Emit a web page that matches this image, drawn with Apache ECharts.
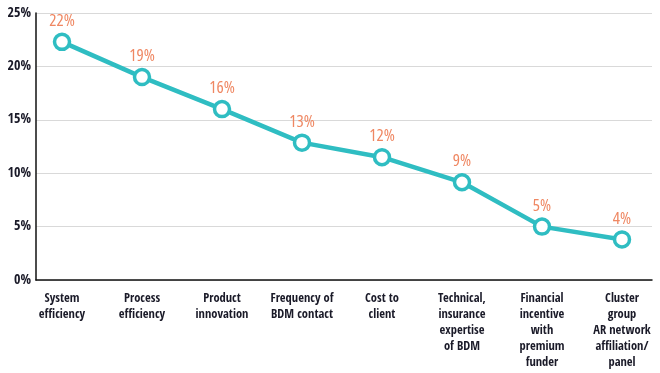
<!DOCTYPE html>
<html><head><meta charset="utf-8">
<script src="https://cdn.jsdelivr.net/npm/echarts@6/dist/echarts.min.js"></script>
<style>html,body{margin:0;padding:0;background:#fff}#c{width:660px;height:373px}</style>
</head><body><div id="c"></div>
<script>
const categories = ['System\nefficiency','Process\nefficiency','Product\ninnovation','Frequency of\nBDM contact','Cost to\nclient','Technical,\ninsurance\nexpertise\nof BDM','Financial\nincentive\nwith\npremium\nfunder','Cluster\ngroup\nAR network\naffiliation/\npanel'];
const values = [22.3, 19.0, 16.0, 12.86, 11.5, 9.15, 5.0, 3.8];
const dataLabels = ['22%','19%','16%','13%','12%','9%','5%','4%'];

const font = "'Open Sans Condensed', 'DejaVu Sans Condensed', sans-serif";
const chart = echarts.init(document.getElementById('c'), null, {renderer:'canvas'});
chart.setOption({
  animation:false,
  grid:{left:36, right:8, top:13, bottom:93, containLabel:false},
  xAxis:{
    type:'value', min:-0.325, max:7.375,
    axisLine:{show:true, onZero:false, lineStyle:{color:'#111', width:1.5}},
    axisTick:{show:false},
    splitLine:{show:false},
    axisLabel:{
      customValues: categories.map((c,i)=>i),
      formatter:(v)=>categories[Math.round(v)],
      color:'#1a1a28', fontFamily:font, fontWeight:'bold', fontSize:12.5, lineHeight:16,
      margin:11, verticalAlign:'top'
    }
  },
  yAxis:{
    type:'value', min:0, max:25, interval:5,
    axisLine:{show:true, onZero:false, lineStyle:{color:'#111', width:1.5}},
    axisTick:{show:false},
    splitLine:{lineStyle:{color:'#d9d9d9', width:1}},
    axisLabel:{formatter:(v)=>v+'%', color:'#1a1a28', fontFamily:font, fontWeight:'bold', fontSize:14, margin:5}
  },
  series:[{
    type:'line',
    data: values.map((v,i)=>[i,v]),
    symbol:'circle', symbolSize:15,
    itemStyle:{color:'#fff', borderColor:'#2fbdc2', borderWidth:3.5},
    lineStyle:{color:'#2fbdc2', width:4.5},
    label:{show:true, position:'top', distance:3, formatter:(p)=>dataLabels[p.dataIndex],
      color:'#ef8762', fontFamily:"'Open Sans', sans-serif", fontStyle:'condensed', fontWeight:400, fontSize:17},
    z:5
  }]
});
</script></body></html>
